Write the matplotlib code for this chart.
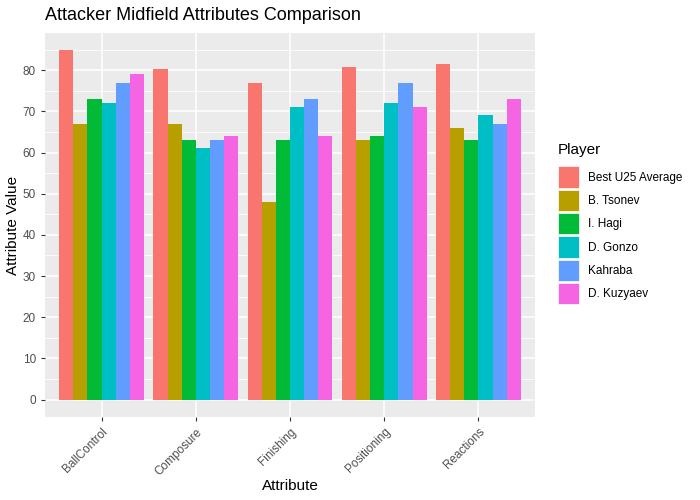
import numpy as np
import matplotlib.pyplot as plt
from matplotlib.patches import Patch

plt.rcParams['font.family'] = ['Liberation Sans', 'DejaVu Sans']

attributes = ['BallControl', 'Composure', 'Finishing', 'Positioning', 'Reactions']
players = ['Best U25 Average', 'B. Tsonev', 'I. Hagi', 'D. Gonzo', 'Kahraba', 'D. Kuzyaev']
colors = ['#F8766D', '#B79F00', '#00BA38', '#00BFC4', '#619CFF', '#F564E3']

best_u25 = [84.8, 80.2, 76.8, 80.8, 81.6]
tsonev = [67, 67, 48, 63, 66]
hagi = [73, 63, 63, 64, 63]
gonzo = [72, 61, 71, 72, 69]
kahraba = [77, 63, 73, 77, 67]
kuzyaev = [79, 64, 64, 71, 73]
values = [best_u25, tsonev, hagi, gonzo, kahraba, kuzyaev]

fig = plt.figure(figsize=(7, 5), dpi=100)
ax = fig.add_axes([45 / 700, 83 / 500, 490 / 700, 384 / 500])
ax.set_facecolor('#EBEBEB')

x = np.arange(1, len(attributes) + 1)
n = len(players)
w = 0.9 / n
for i, (vals, col) in enumerate(zip(values, colors)):
    ax.bar(x - 0.45 + w * (i + 0.5), vals, width=w, color=col, zorder=3)

ymax = max(max(v) for v in values)
ax.set_ylim(-0.05 * ymax, ymax * 1.05)
ax.set_xlim(0.4, len(attributes) + 0.6)

ax.set_yticks(np.arange(0, 81, 10))
ax.set_yticks(np.arange(5, 86, 10), minor=True)
ax.set_xticks(x)
ax.set_xticklabels(attributes, rotation=45, ha='right', rotation_mode='anchor')

ax.grid(which='major', color='white', linewidth=1.1, zorder=0)
ax.grid(which='minor', axis='y', color='white', linewidth=0.55, zorder=0)
ax.tick_params(which='major', length=3, width=0.8, color='#333333',
               labelcolor='#4D4D4D', labelsize=8.5)
ax.tick_params(which='minor', length=0)
for s in ax.spines.values():
    s.set_visible(False)

ax.set_xlabel('Attribute', fontsize=11, labelpad=1)
ax.set_ylabel('Attribute Value', fontsize=11, labelpad=2)
ax.set_title('Attacker Midfield Attributes Comparison', fontsize=13, loc='left', x=0, pad=9)

handles = [Patch(facecolor=c, edgecolor='white', linewidth=0.5) for c in colors]
leg = fig.legend(handles, players, loc='upper left', bbox_to_anchor=(553 / 700, 1 - 138 / 500),
                 frameon=False, fontsize=8.5, title='Player', title_fontsize=11,
                 handlelength=1.8, handleheight=2.4, handletextpad=0.75,
                 labelspacing=0.17, borderaxespad=0)
leg._legend_box.align = 'left'
leg._legend_box.sep = 7

fig.savefig('out.png', dpi=100)
